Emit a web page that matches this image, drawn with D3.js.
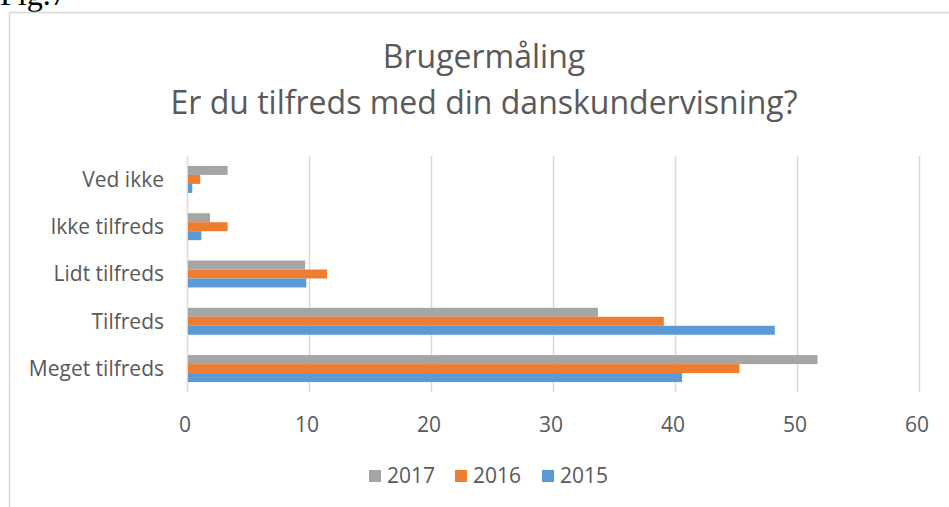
<!DOCTYPE html>
<html>
<head>
<meta charset="utf-8">
<script src="https://cdn.jsdelivr.net/npm/d3@7"></script>
<style>
  body { margin: 0; background: #fff; }
  svg { display: block; }
</style>
</head>
<body>
<div id="chart"></div>
<script>
// categories, top to bottom
const categories = ["Ved ikke", "Ikke tilfreds", "Lidt tilfreds", "Tilfreds", "Meget tilfreds"];
const years = ["2017", "2016", "2015"];
const values2017 = [3.25, 1.8, 9.6, 33.6, 51.6];
const values2016 = [1.0, 3.25, 11.4, 39.0, 45.2];
const values2015 = [0.35, 1.1, 9.7, 48.1, 40.5];
const xTicks = [0, 10, 20, 30, 40, 50, 60];

const seriesByYear = { "2017": values2017, "2016": values2016, "2015": values2015 };

const width = 949;
const height = 507;
const font = "'Open Sans', sans-serif";
const textColor = "#595959";

const color = d3.scaleOrdinal()
  .domain(years)
  .range(["#a5a5a5", "#ed7d31", "#5b9bd5"]);

const svg = d3.select("#chart")
  .append("svg")
  .attr("width", width)
  .attr("height", height);

// "Fig.7" caption, cut off at the top like in the source page
svg.append("text")
  .attr("x", 0)
  .attr("y", 5)
  .attr("font-family", "'Liberation Serif', 'Times New Roman', serif")
  .attr("font-size", 32)
  .attr("fill", "#000")
  .text("Fig.7");

// chart frame (only left and top edges visible)
svg.append("path")
  .attr("d", `M9.5,${height} V12.5 H${width}`)
  .attr("fill", "none")
  .attr("stroke", "#d9d9d9")
  .attr("stroke-width", 1.5);

// title
const title = svg.append("text")
  .attr("text-anchor", "middle")
  .attr("font-family", font)
  .attr("font-size", 32)
  .attr("fill", textColor);
title.append("tspan").attr("x", 484).attr("y", 68).text("Brugermåling");
title.append("tspan").attr("x", 484).attr("y", 114).text("Er du tilfreds med din danskundervisning?");

const x = d3.scaleLinear().domain([0, 60]).range([187, 919]);

const y = d3.scaleBand()
  .domain(categories)
  .range([156, 392])
  .paddingInner(0.43)
  .paddingOuter(0.21);

const ySub = d3.scaleBand()
  .domain(years)
  .range([0, y.bandwidth()]);

// gridlines
svg.append("g")
  .selectAll("line")
  .data(xTicks)
  .join("line")
  .attr("x1", d => x(d) + 0.5)
  .attr("x2", d => x(d) + 0.5)
  .attr("y1", 156)
  .attr("y2", 392)
  .attr("stroke", "#d9d9d9")
  .attr("stroke-width", 1.5);

// bars
const groups = svg.append("g")
  .selectAll("g")
  .data(categories)
  .join("g")
  .attr("transform", d => `translate(0,${y(d)})`);

groups.selectAll("rect")
  .data((c, i) => years.map(yr => ({ year: yr, value: seriesByYear[yr][i] })))
  .join("rect")
  .attr("x", x(0) + 1)
  .attr("y", d => ySub(d.year))
  .attr("width", d => x(d.value) - x(0))
  .attr("height", ySub.bandwidth())
  .attr("fill", d => color(d.year));

// category labels
svg.append("g")
  .selectAll("text")
  .data(categories)
  .join("text")
  .attr("x", 164)
  .attr("y", d => y(d) + y.bandwidth() / 2)
  .attr("dy", "0.35em")
  .attr("text-anchor", "end")
  .attr("font-family", font)
  .attr("font-size", 21)
  .attr("fill", textColor)
  .text(d => d);

// x tick labels
svg.append("g")
  .selectAll("text")
  .data(xTicks)
  .join("text")
  .attr("x", d => x(d) - 2)
  .attr("y", 432)
  .attr("text-anchor", "middle")
  .attr("font-family", font)
  .attr("font-size", 21)
  .attr("fill", textColor)
  .text(d => d);

// legend
const legendX = [369, 455, 542];
const legend = svg.append("g")
  .selectAll("g")
  .data(years)
  .join("g")
  .attr("transform", (d, i) => `translate(${legendX[i]},470)`);

legend.append("rect")
  .attr("width", 12)
  .attr("height", 12)
  .attr("fill", d => color(d));

legend.append("text")
  .attr("x", 18)
  .attr("y", 6)
  .attr("dy", "0.35em")
  .attr("font-family", font)
  .attr("font-size", 21)
  .attr("fill", textColor)
  .text(d => d);
</script>
</body>
</html>
